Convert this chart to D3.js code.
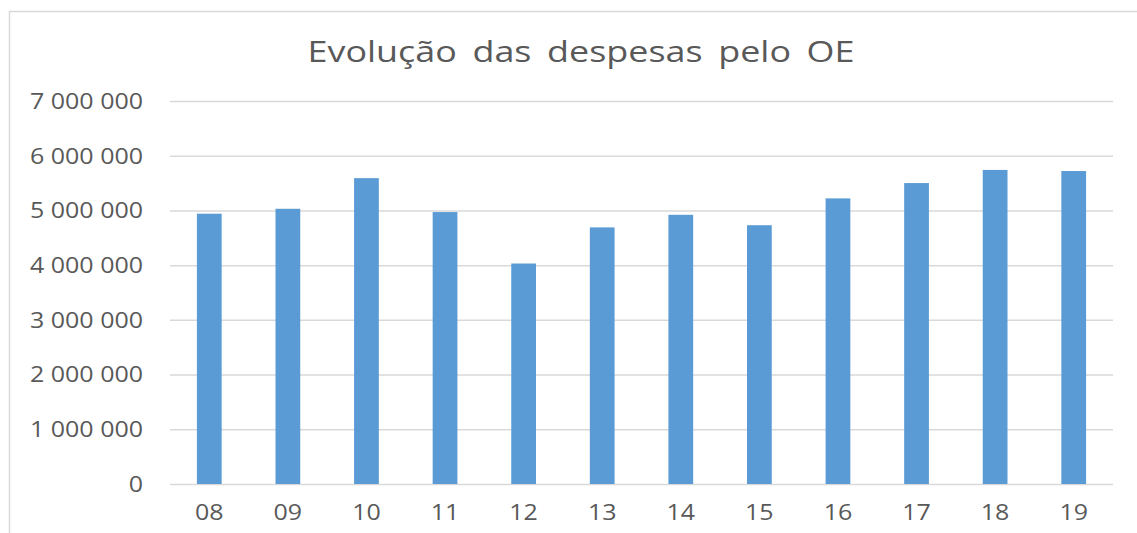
<!DOCTYPE html>
<html>
<head>
<meta charset="utf-8">
<script src="https://cdn.jsdelivr.net/npm/d3@7"></script>
<style>
  body { margin: 0; background: #fff; }
  text { font-family: "Open Sans", sans-serif; fill: #595959; }
</style>
</head>
<body>
<div id="chart"></div>
<script>
// Chart data
const years = ['08', '09', '10', '11', '12', '13', '14', '15', '16', '17', '18', '19'];
const despesas = [4940000, 5030000, 5590000, 4970000, 4030000, 4690000, 4920000, 4730000, 5220000, 5500000, 5740000, 5720000];
const yTicks = [0, 1000000, 2000000, 3000000, 4000000, 5000000, 6000000, 7000000];
const title = 'Evolução das despesas pelo OE';

const width = 1137;
const height = 533;
const margin = { top: 101, right: 24, bottom: 49, left: 170 };
const stretch = 1.19; // the reference text is horizontally widened
const titleStretch = 1.26;

const svg = d3.select('#chart')
    .append('svg')
    .attr('width', width)
    .attr('height', height);

// Outer frame (cut off at right and bottom in the reference)
svg.append('rect')
    .attr('x', 9.5)
    .attr('y', 11.5)
    .attr('width', width + 20)
    .attr('height', height + 20)
    .attr('fill', 'none')
    .attr('stroke', '#d9d9d9')
    .attr('stroke-width', 1.5);

const x = d3.scaleBand()
    .domain(years)
    .range([margin.left, width - margin.right])
    .paddingInner(0.685)
    .paddingOuter(0.3425);

const y = d3.scaleLinear()
    .domain([0, 7000000])
    .range([height - margin.bottom, margin.top]);

const fmt = v => d3.format(',')(v).replace(/,/g, ' ');

// Y axis with gridlines
const yAxis = svg.append('g')
    .attr('transform', `translate(${margin.left},0)`)
    .call(d3.axisLeft(y)
        .tickValues(yTicks)
        .tickSize(-(width - margin.left - margin.right))
        .tickPadding(0)
        .tickFormat(fmt));

yAxis.select('.domain').remove();
yAxis.selectAll('.tick line')
    .attr('stroke', '#d9d9d9')
    .attr('stroke-width', 1.5);
yAxis.selectAll('.tick text')
    .attr('x', -27 / stretch)
    .attr('dy', '0.35em')
    .attr('transform', `scale(${stretch},1)`)
    .style('font-size', '21px')
    .style('fill', '#595959');

// Bars
svg.append('g')
    .selectAll('rect')
    .data(years.map((d, i) => ({ year: d, value: despesas[i] })))
    .enter()
    .append('rect')
    .attr('x', d => x(d.year))
    .attr('y', d => y(d.value))
    .attr('width', x.bandwidth())
    .attr('height', d => y(0) - y(d.value))
    .attr('fill', '#5b9bd5');

// X axis
const xAxis = svg.append('g')
    .attr('transform', `translate(0,${height - margin.bottom})`)
    .call(d3.axisBottom(x).tickSize(0).tickPadding(0));

xAxis.select('.domain').remove();
xAxis.selectAll('.tick text')
    .attr('y', 36)
    .attr('dy', 0)
    .attr('transform', `scale(${stretch},1)`)
    .style('font-size', '21px')
    .style('fill', '#595959');

// Title
svg.append('text')
    .attr('x', 581 / titleStretch)
    .attr('y', 62)
    .attr('transform', `scale(${titleStretch},1)`)
    .attr('text-anchor', 'middle')
    .style('font-size', '28.5px')
    .style('word-spacing', '5px')
    .text(title);
</script>
</body>
</html>
